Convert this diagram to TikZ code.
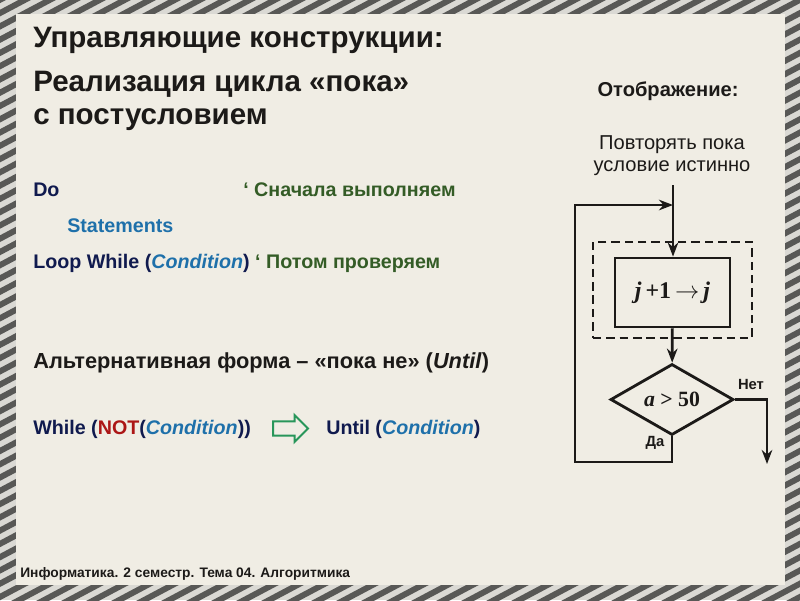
\documentclass[tikz,border=0pt]{standalone}
\usepackage{fontspec}
\setmainfont{Liberation Sans}
\newfontfamily\flowserif{Liberation Serif}
\usetikzlibrary{arrows.meta,shapes.geometric,shapes.arrows}
\definecolor{AlgFrameDark}{RGB}{88,88,86}
\definecolor{AlgFrameLight}{RGB}{218,217,212}
\definecolor{AlgPaper}{RGB}{240,237,228}
\definecolor{AlgInk}{RGB}{28,26,24}
\definecolor{AlgNavy}{RGB}{16,26,78}
\definecolor{AlgBlue}{RGB}{30,112,170}
\definecolor{AlgGreen}{RGB}{52,92,38}
\definecolor{AlgRed}{RGB}{172,22,22}
\definecolor{AlgArrowGreen}{RGB}{40,150,90}
\tikzset{
  alg/title/.style={anchor=base west, font=\bfseries\fontsize{21}{24}\selectfont, text=AlgInk, inner sep=0pt},
  alg/code/.style={anchor=base west, font=\bfseries\fontsize{14}{17}\selectfont, text=AlgNavy, inner sep=0pt},
  alg/note/.style={anchor=base, font=\fontsize{14.3}{17}\selectfont, text=AlgInk, inner sep=0pt},
  alg/foot/.style={anchor=base west, font=\bfseries\fontsize{9.8}{12}\selectfont, text=AlgInk, inner sep=0pt},
  alg/proc/.style={draw=AlgInk, line width=2pt, minimum width=2.875cm, minimum height=1.725cm,
    font=\flowserif\bfseries\fontsize{17}{20}\selectfont, text=AlgInk},
  alg/cond/.style={diamond, draw=AlgInk, line width=2pt, minimum width=3.075cm, minimum height=1.775cm,
    inner sep=0pt, font=\flowserif\bfseries\fontsize{15.5}{18}\selectfont, text=AlgInk},
  alg/frame/.style={draw=AlgInk, line width=2pt, dash pattern=on 6pt off 3.5pt,
    minimum width=3.975cm, minimum height=2.4cm},
  alg/flow/.style={-{Stealth[length=10pt,width=7.5pt]}, line width=2pt, draw=AlgInk},
  alg/lbl/.style={font=\bfseries\fontsize{10.5}{12}\selectfont, text=AlgInk, inner sep=0pt},
  alg/hollow/.style={single arrow, draw=AlgArrowGreen, line width=1.4pt, fill=none,
    minimum height=0.875cm, inner xsep=0pt, inner ysep=4.3pt, single arrow head extend=0.16cm}
}
\begin{document}
\begin{tikzpicture}[x=0.025cm,y=-0.025cm]
  % striped frame and paper
  \fill[AlgFrameLight] (0,0) rectangle (800,600);
  \begin{scope}
    \clip (0,0) rectangle (800,600);
    \foreach \k in {-1400,-1375,...,825}
      \draw[AlgFrameDark, line width=4.2pt] (\k,650) -- (\k+1300,-40);
  \end{scope}
  \fill[AlgPaper] (16,14) rectangle (785,585);
  \useasboundingbox (0,0) rectangle (800,600);

  % headings
  \node[alg/title] (head1) at (33,47) {Управляющие конструкции:};
  \node[alg/title] (head2) at (33,91) {Реализация цикла «пока»};
  \node[alg/title] (head3) at (33,124) {с постусловием};

  % code lines
  \node[alg/code] (do) at (33,196) {Do};
  \node[alg/code,text=AlgGreen] (cmt1) at (243,196) {‘ Сначала выполняем};
  \node[alg/code,text=AlgBlue] (stmts) at (67,232) {Statements};
  \node[alg/code] (loopw) at (33,268) {Loop While (\textcolor{AlgBlue}{\itshape Condition}) \textcolor{AlgGreen}{‘ Потом проверяем}};
  \node[alg/code,text=AlgInk,font=\bfseries\fontsize{15.5}{18}\selectfont] (alt) at (33,368) {Альтернативная форма – «пока не» (\textit{Until})};
  \node[alg/code] (whilenot) at (33,434) {While (\textcolor{AlgRed}{NOT}(\textcolor{AlgBlue}{\itshape Condition}))};
  \node[alg/hollow] (eqv) at (287,428.5) {};
  \node[alg/code] (until) at (326,434) {Until (\textcolor{AlgBlue}{\itshape Condition})};

  % flowchart
  \node[alg/note,font=\bfseries\fontsize{14.3}{17}\selectfont] (shown) at (668,96) {Отображение:};
  \node[alg/note] (rep1) at (672,149) {Повторять пока};
  \node[alg/note] (rep2) at (672,171) {условие истинно};
  \node[alg/frame] (bodyfrm) at (672.5,290) {};
  \node[alg/proc] (body) at (672.5,292.5) {\itshape j\upshape\,+1\,$\rightarrow$\,\itshape j};
  \node[alg/cond] (cond) at (672,399.5) {\itshape a\upshape\ > 50};
  \coordinate (entry) at (673,185);
  \coordinate (joint) at (673,205);
  \coordinate (lpbot) at (575,462);
  \coordinate (noend) at (767,464);
  \draw[alg/flow] (entry) -- (body.north -| entry);
  \draw[alg/flow] (body) -- (cond);
  \draw[alg/flow] (cond.south) |- (lpbot) |- (joint);
  \draw[alg/flow] (cond.east) -| (noend);
  \node[alg/lbl] (nolbl) at (751,384) {Нет};
  \node[alg/lbl] (yeslbl) at (655,443) {Да};

  % footer
  \node[alg/foot] (foot) at (20,577) {Информатика. 2 семестр. Тема 04. Алгоритмика};
\end{tikzpicture}
\end{document}
